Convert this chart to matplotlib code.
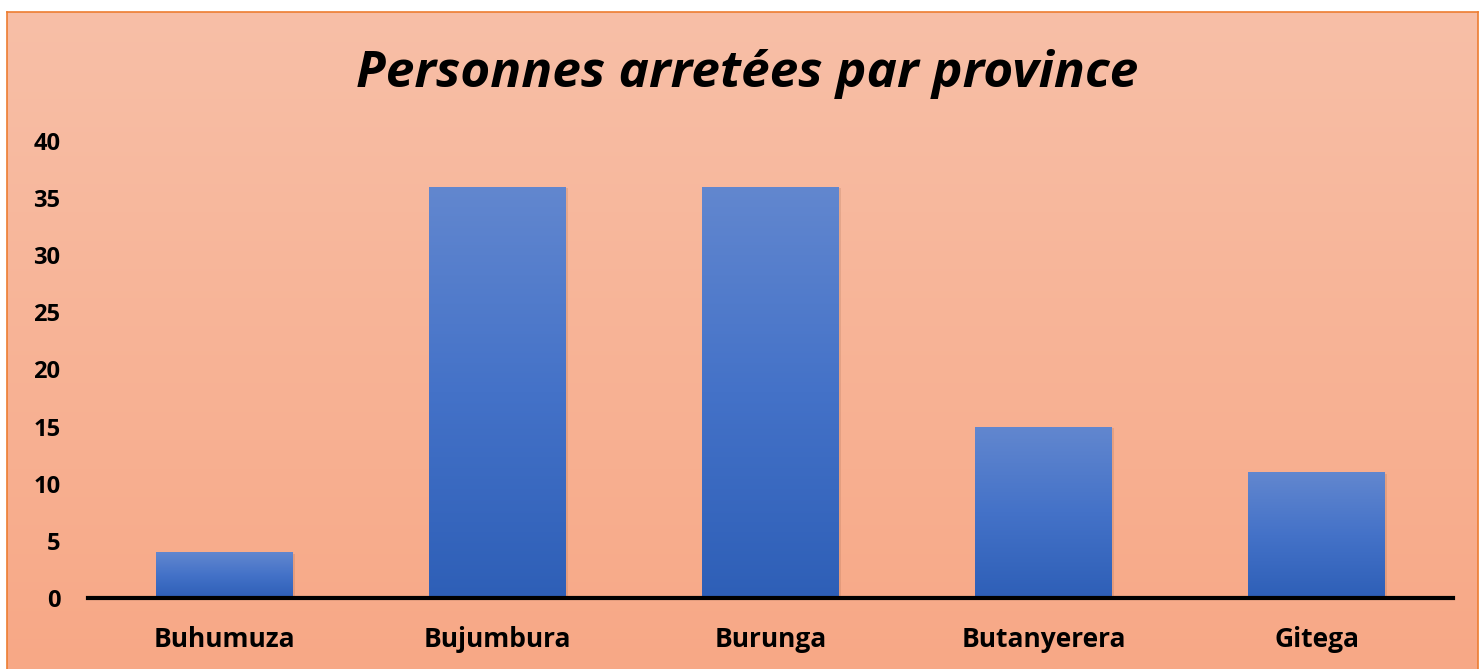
import matplotlib.pyplot as plt
import numpy as np
from matplotlib.colors import LinearSegmentedColormap
from matplotlib.patches import Rectangle
import matplotlib.patheffects as pe

provinces = ['Buhumuza', 'Bujumbura', 'Burunga', 'Butanyerera', 'Gitega']
arretes = [4, 36, 36, 15, 11]
yticks = [0, 5, 10, 15, 20, 25, 30, 35, 40]

plt.rcParams.update({
    "font.family": ["Open Sans", "DejaVu Sans"],
    "font.weight": "bold",
})

fig = plt.figure(figsize=(14.82, 6.69), dpi=100)
fig.patch.set_facecolor('white')

# fond du graphique (dégradé saumon) avec bordure orange
bg = fig.add_axes([7 / 1482, 0, 1471 / 1482, 657 / 669])
bg_cmap = LinearSegmentedColormap.from_list('bg', ['#F8BFA7', '#F7A886'])
bg.imshow(np.linspace(0, 1, 256).reshape(-1, 1), cmap=bg_cmap, aspect='auto',
          extent=[0, 1, 0, 1], origin='upper')
bg.set_xlim(0, 1)
bg.set_ylim(0, 1)
bg.set_xticks([])
bg.set_yticks([])
for s in bg.spines.values():
    s.set_color('#ED7D31')
    s.set_linewidth(1.2)
bg.spines['bottom'].set_visible(False)

ax = fig.add_axes([88 / 1482, 71 / 669, 1365 / 1482, 457 / 669])
ax.patch.set_alpha(0)
x = np.arange(len(provinces))
bars = ax.bar(x, arretes, width=0.5, color='#3F6FCB', zorder=2,
              path_effects=[pe.SimplePatchShadow(offset=(1.5, -1), alpha=0.15, shadow_rgbFace='#7a4a30'),
                            pe.Normal()])

# dégradé bleu dans chaque barre
bar_cmap = LinearSegmentedColormap.from_list('bar', ['#6287CF', '#4472C8', '#2E5FB7'])
grad = np.linspace(0, 1, 256).reshape(-1, 1)
for b in bars:
    x0, y0 = b.get_x(), b.get_y()
    w, h = b.get_width(), b.get_height()
    im = ax.imshow(grad, cmap=bar_cmap, aspect='auto', origin='upper',
                   extent=[x0, x0 + w, y0, y0 + h], zorder=3)
    clip = Rectangle((x0, y0), w, h, transform=ax.transData)
    im.set_clip_path(clip)

ax.set_xlim(-0.5, len(provinces) - 0.5)
ax.set_ylim(0, 40)
ax.set_yticks(yticks)
ax.set_xticks(x)
ax.set_xticklabels(provinces, fontsize=19, fontweight='bold')
ax.tick_params(axis='y', length=0, pad=20, labelsize=17)
ax.tick_params(axis='x', length=0, pad=20)
for s in ['top', 'right', 'left']:
    ax.spines[s].set_visible(False)
ax.spines['bottom'].set_linewidth(3)
ax.spines['bottom'].set_color('black')
ax.spines['bottom'].set_zorder(4)

fig.text(0.504, 1 - 74 / 669, 'Personnes arretées par province', ha='center', va='center',
         fontsize=37, fontweight='bold', fontstyle='italic')

fig.savefig('out.png', dpi=100)
